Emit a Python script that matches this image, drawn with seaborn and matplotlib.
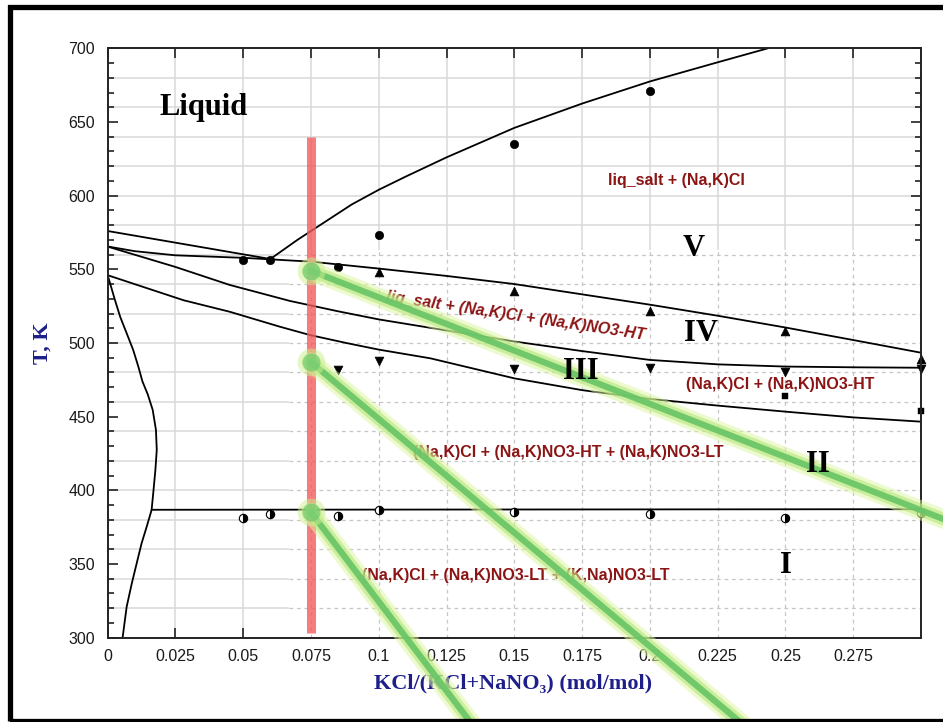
import numpy as np
import seaborn as sns
import matplotlib.pyplot as plt
from matplotlib.patches import Rectangle
from matplotlib.ticker import MultipleLocator, FixedLocator

sns.set_style("white")
plt.rcParams['font.family'] = ['Liberation Sans', 'DejaVu Sans']

# phase boundary curves (x = KCl fraction, T in K)
liq_kcl_x = [0.06, 0.07, 0.08, 0.09, 0.1, 0.11, 0.125, 0.15, 0.175, 0.2, 0.225, 0.2435]
liq_kcl_T = [557, 570, 582, 594, 604, 613, 626, 646, 662.5, 677.5, 690.5, 700]

liq_a_x = [0, 0.03, 0.06]
liq_a_T = [576, 566.5, 557]

bound_v_x = [0, 0.01, 0.025, 0.05, 0.075, 0.1, 0.125, 0.15, 0.175, 0.2, 0.225, 0.25, 0.275, 0.3]
bound_v_T = [565.5, 562.3, 559.5, 557.8, 555.2, 550.5, 545.5, 540, 533, 526, 518.5, 510.5, 502, 493.4]

bound_iv_x = [0, 0.025, 0.045, 0.0673, 0.085, 0.1, 0.125, 0.15, 0.175, 0.2, 0.225, 0.25, 0.275, 0.3]
bound_iv_T = [565.4, 551.6, 539.4, 528.5, 521.5, 516, 508.5, 501, 494.5, 488.5, 485.5, 484, 483.5, 483.2]

bound_iii_x = [0, 0.028, 0.045, 0.0636, 0.0746, 0.088, 0.1, 0.119, 0.15, 0.175, 0.2, 0.225, 0.25, 0.275, 0.3]
bound_iii_T = [546, 529, 521.2, 511, 505.4, 500, 495.5, 489.6, 476, 468, 462, 457.5, 453.4, 449.5, 446.6]

solvus_x = [0, 0.0027, 0.0046, 0.007, 0.0094, 0.0113, 0.0128, 0.0148, 0.0166, 0.0178,
            0.0181, 0.0176, 0.0169, 0.0162, 0.0144, 0.0125, 0.0107, 0.0089, 0.007, 0.0055]
solvus_T = [546, 529, 517.8, 506.6, 495.3, 484, 474, 465, 454.6, 441,
            427.5, 414, 400, 386.7, 375.4, 364, 350.5, 336.9, 321, 300]

eutectic_x = [0.0162, 0.3]
eutectic_T = [386.8, 387.2]

# experimental points
circ_x = [0.05, 0.06, 0.075, 0.085, 0.1, 0.15, 0.2]
circ_T = [556, 556, 549, 551.5, 573, 635, 671]
up_x = [0.1, 0.15, 0.2, 0.25, 0.3]
up_T = [548, 535, 522, 508, 489]
down_x = [0.075, 0.085, 0.1, 0.15, 0.2, 0.25, 0.3]
down_T = [484, 481.5, 488, 482.5, 483, 480.5, 482.5]
sq_x = [0.25, 0.3]
sq_T = [464, 454]
half_x = [0.05, 0.06, 0.075, 0.085, 0.1, 0.15, 0.2, 0.25, 0.3]
half_T = [381, 384, 382, 382.5, 386.5, 385.5, 384, 381, 384.5]

# highlighted composition and reading lines
red_bar_x = 0.075
red_bar_T = [303, 640]
green_start = [(0.075, 549), (0.075, 487), (0.075, 385)]
green_end = [(0.32, 372), (0.2415, 230), (0.139, 230)]

x_ticks = [0, 0.025, 0.05, 0.075, 0.1, 0.125, 0.15, 0.175, 0.2, 0.225, 0.25, 0.275]
x_labels = ["0", "0.025", "0.05", "0.075", "0.1", "0.125", "0.15", "0.175", "0.2", "0.225", "0.25", "0.275"]

region_labels = [
    ("liq_salt + (Na,K)Cl", 0.2097, 610.6, 0, 'normal'),
    ("liq_salt + (Na,K)Cl + (Na,K)NO3-HT", 0.1506, 518.7, -8.5, 'italic'),
    ("(Na,K)Cl + (Na,K)NO3-HT", 0.248, 471.5, 0, 'normal'),
    ("(Na,K)Cl + (Na,K)NO3-HT + (Na,K)NO3-LT", 0.170, 425.5, 0, 'normal'),
    ("(Na,K)Cl + (Na,K)NO3-LT + (K,Na)NO3-LT", 0.1505, 341.9, 0, 'normal'),
]
roman_labels = [("Liquid", 0.0355, 660), ("V", 0.216, 564.3), ("IV", 0.2187, 506.6),
                ("III", 0.1745, 480.5), ("II", 0.2618, 417.2), ("I", 0.25, 349.3)]

fig = plt.figure(figsize=(9.43, 7.22), dpi=100)
ax = fig.add_axes([0.1142, 0.1168, 0.8625, 0.8163])
ax.set_xlim(0, 0.3)
ax.set_ylim(300, 700)

# grid: solid in the upper/left part, dashed in the lower-right part
grid_x = np.array(x_ticks[1:])
grid_T = np.arange(320, 700, 20)
ax.vlines(grid_x, 300, 700, colors='#d8d8d8', lw=1.1, zorder=0.5)
ax.hlines(grid_T, 0, 0.3, colors='#d8d8d8', lw=1.1, zorder=0.5)
ax.add_patch(Rectangle((0.0668, 300), 0.3 - 0.0668, 263, fc='white', ec='none', zorder=0.6))
ax.vlines(grid_x[grid_x > 0.0668], 300, 563, colors='#c6c6c6', lw=0.9,
          linestyles=(0, (3, 3)), zorder=0.7)
ax.hlines(grid_T[grid_T < 563], 0.0668, 0.3, colors='#c6c6c6', lw=0.9,
          linestyles=(0, (3, 3)), zorder=0.7)

for cx, cy in [(liq_kcl_x, liq_kcl_T), (liq_a_x, liq_a_T), (bound_v_x, bound_v_T),
               (bound_iv_x, bound_iv_T), (bound_iii_x, bound_iii_T),
               (solvus_x, solvus_T), (eutectic_x, eutectic_T)]:
    sns.lineplot(x=cx, y=cy, sort=False, estimator=None, color='black', linewidth=1.3, ax=ax)

sns.scatterplot(x=circ_x, y=circ_T, marker='o', s=36, color='black', edgecolor='black', ax=ax, zorder=4, clip_on=False)
sns.scatterplot(x=up_x, y=up_T, marker='^', s=40, color='black', edgecolor='black', ax=ax, zorder=4, clip_on=False)
sns.scatterplot(x=down_x, y=down_T, marker='v', s=40, color='black', edgecolor='black', ax=ax, zorder=4, clip_on=False)
sns.scatterplot(x=sq_x, y=sq_T, marker='s', s=14, color='black', edgecolor='black', ax=ax, zorder=4, clip_on=False)
ax.plot(half_x, half_T, ls='none', marker='o', ms=6, mfc='black', mfcalt='white',
        mec='black', mew=0.8, fillstyle='right', zorder=4, clip_on=False)

# text labels
for txt, tx, ty, rot, sty in region_labels:
    ax.text(tx, ty, txt, color='#8b1414', fontsize=11.5, fontweight='bold', style=sty,
            ha='center', va='center', rotation=rot, rotation_mode='anchor', zorder=5)

# red composition bar
ax.plot([red_bar_x, red_bar_x], red_bar_T, color='#f25c5c', alpha=0.8, lw=6.5,
        solid_capstyle='butt', zorder=6)

# green reading lines with glow
for (x0, y0), (x1, y1) in zip(green_start, green_end):
    ax.plot([x0, x1], [y0, y1], color='#dcf6a0', alpha=0.5, lw=14, clip_on=False,
            solid_capstyle='round', zorder=7)
    ax.plot([x0, x1], [y0, y1], color='#b4e77a', alpha=0.6, lw=9, clip_on=False,
            solid_capstyle='round', zorder=7)
    ax.plot([x0, x1], [y0, y1], color='#66c466', alpha=0.9, lw=4.5, clip_on=False, zorder=7)
    ax.plot([x0], [y0], ls='none', marker='o', ms=20, mfc='#cdf08e', mec='none', alpha=0.5, zorder=7)
    ax.plot([x0], [y0], ls='none', marker='o', ms=13, mfc='#6cc86c', mec='none', alpha=0.7, zorder=7)

for txt, tx, ty in roman_labels:
    ax.text(tx, ty, txt, color='black', fontsize=22, fontweight='bold',
            family=['Liberation Serif', 'DejaVu Serif'], ha='center', va='center', zorder=8)

# axes styling
ax.set_xticks(x_ticks)
ax.set_xticklabels(x_labels)
ax.yaxis.set_major_locator(MultipleLocator(50))
ax.yaxis.set_minor_locator(MultipleLocator(10))
ax.xaxis.set_minor_locator(FixedLocator([]))
ax.tick_params(which='both', direction='in', top=True, right=True, left=True, bottom=True,
               color='#222222', width=1.2)
ax.tick_params(which='major', length=7, labelsize=11.5, labelcolor='#1a1a1a')
ax.tick_params(axis='x', which='major', pad=8)
ax.tick_params(axis='y', which='major', pad=9)
ax.tick_params(which='minor', length=4)
for sp in ax.spines.values():
    sp.set_color('#222222')
    sp.set_linewidth(1.4)
    sp.set_zorder(6)

ax.set_xlabel("KCl/(KCl+NaNO\u2083) (mol/mol)", fontsize=16, fontweight='bold', color='#1f1f8c',
              family=['Liberation Serif', 'DejaVu Serif'])
ax.set_ylabel("T, K", fontsize=16, fontweight='bold', color='#1f1f8c',
              family=['Liberation Serif', 'DejaVu Serif'])
ax.xaxis.set_label_coords(0.499, -0.06)
ax.yaxis.set_label_coords(-0.068, 0.5)

# outer frame
fig.add_artist(Rectangle((10 / 943, 1.5 / 722), (950 - 10) / 943, (715.3 - 1.5) / 722,
                         transform=fig.transFigure, fill=False, ec='black', lw=3.8, zorder=20))

fig.savefig("out.png", dpi=100)
